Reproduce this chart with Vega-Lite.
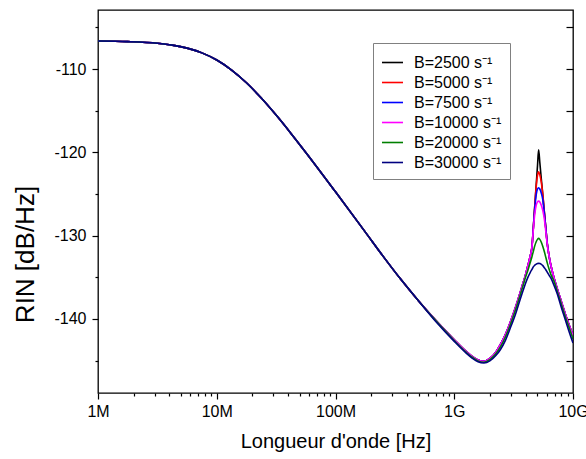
{
  "$schema": "https://vega.github.io/schema/vega-lite/v6.json",
  "width": 475,
  "height": 383,
  "autosize": {"type": "none"},
  "padding": {"left": 98, "top": 10, "right": 13, "bottom": 66},
  "config": {
    "font": "Liberation Sans",
    "view": {"stroke": "#000000", "strokeWidth": 1.3},
    "axis": {
      "labelFont": "Liberation Sans",
      "titleFont": "Liberation Sans",
      "labelFontSize": 16,
      "titleFontSize": 20,
      "titleFontWeight": "normal",
      "labelColor": "#000000",
      "titleColor": "#000000",
      "tickColor": "#000000",
      "tickWidth": 1.2,
      "domain": false,
      "grid": false
    }
  },
  "datasets": {
    "rin": [
      {"f": 1e6, "B=2500": -106.63, "B=5000": -106.63, "B=7500": -106.63, "B=10000": -106.63, "B=20000": -106.63, "B=30000": -106.63},
      {"f": 1.778e6, "B=2500": -106.7, "B=5000": -106.7, "B=7500": -106.7, "B=10000": -106.7, "B=20000": -106.7, "B=30000": -106.7},
      {"f": 3.162e6, "B=2500": -106.9, "B=5000": -106.9, "B=7500": -106.9, "B=10000": -106.9, "B=20000": -106.9, "B=30000": -106.9},
      {"f": 4.217e6, "B=2500": -107.12, "B=5000": -107.12, "B=7500": -107.12, "B=10000": -107.12, "B=20000": -107.12, "B=30000": -107.12},
      {"f": 5.623e6, "B=2500": -107.48, "B=5000": -107.48, "B=7500": -107.48, "B=10000": -107.48, "B=20000": -107.48, "B=30000": -107.48},
      {"f": 7.499e6, "B=2500": -108.05, "B=5000": -108.05, "B=7500": -108.05, "B=10000": -108.05, "B=20000": -108.05, "B=30000": -108.05},
      {"f": 1e7, "B=2500": -108.91, "B=5000": -108.91, "B=7500": -108.91, "B=10000": -108.91, "B=20000": -108.91, "B=30000": -108.91},
      {"f": 1.334e7, "B=2500": -110.11, "B=5000": -110.11, "B=7500": -110.11, "B=10000": -110.11, "B=20000": -110.11, "B=30000": -110.11},
      {"f": 1.778e7, "B=2500": -111.64, "B=5000": -111.64, "B=7500": -111.64, "B=10000": -111.64, "B=20000": -111.64, "B=30000": -111.64},
      {"f": 2.371e7, "B=2500": -113.47, "B=5000": -113.47, "B=7500": -113.47, "B=10000": -113.47, "B=20000": -113.47, "B=30000": -113.47},
      {"f": 3.162e7, "B=2500": -115.52, "B=5000": -115.52, "B=7500": -115.52, "B=10000": -115.52, "B=20000": -115.52, "B=30000": -115.52},
      {"f": 4.217e7, "B=2500": -117.72, "B=5000": -117.72, "B=7500": -117.72, "B=10000": -117.72, "B=20000": -117.72, "B=30000": -117.72},
      {"f": 5.623e7, "B=2500": -120.01, "B=5000": -120.01, "B=7500": -120.01, "B=10000": -120.01, "B=20000": -120.01, "B=30000": -120.01},
      {"f": 1e8, "B=2500": -124.74, "B=5000": -124.74, "B=7500": -124.74, "B=10000": -124.74, "B=20000": -124.74, "B=30000": -124.74},
      {"f": 1.778e8, "B=2500": -129.55, "B=5000": -129.55, "B=7500": -129.55, "B=10000": -129.55, "B=20000": -129.55, "B=30000": -129.55},
      {"f": 2.512e8, "B=2500": -132.46, "B=5000": -132.46, "B=7500": -132.46, "B=10000": -132.46, "B=20000": -132.46, "B=30000": -132.46},
      {"f": 3.548e8, "B=2500": -135.25, "B=5000": -135.25, "B=7500": -135.25, "B=10000": -135.25, "B=20000": -135.25, "B=30000": -135.25},
      {"f": 5.012e8, "B=2500": -137.85, "B=5000": -137.85, "B=7500": -137.85, "B=10000": -137.85, "B=20000": -137.85, "B=30000": -137.85},
      {"f": 7.079e8, "B=2500": -140.25, "B=5000": -140.25, "B=7500": -140.25, "B=10000": -140.25, "B=20000": -140.3, "B=30000": -140.4},
      {"f": 1e9, "B=2500": -142.5, "B=5000": -142.5, "B=7500": -142.5, "B=10000": -142.5, "B=20000": -142.6, "B=30000": -142.7},
      {"f": 1.259e9, "B=2500": -143.9, "B=5000": -143.9, "B=7500": -143.9, "B=10000": -143.9, "B=20000": -144.0, "B=30000": -144.1},
      {"f": 1.413e9, "B=2500": -144.5, "B=5000": -144.5, "B=7500": -144.5, "B=10000": -144.5, "B=20000": -144.6, "B=30000": -144.7},
      {"f": 1.585e9, "B=2500": -144.95, "B=5000": -144.95, "B=7500": -144.95, "B=10000": -144.95, "B=20000": -145.05, "B=30000": -145.15},
      {"f": 1.778e9, "B=2500": -145.1, "B=5000": -145.1, "B=7500": -145.1, "B=10000": -145.1, "B=20000": -145.2, "B=30000": -145.3},
      {"f": 1.995e9, "B=2500": -144.75, "B=5000": -144.75, "B=7500": -144.75, "B=10000": -144.75, "B=20000": -144.9, "B=30000": -145.05},
      {"f": 2.239e9, "B=2500": -144.0, "B=5000": -144.0, "B=7500": -144.0, "B=10000": -144.0, "B=20000": -144.2, "B=30000": -144.4},
      {"f": 2.443e9, "B=2500": -143.1, "B=5000": -143.1, "B=7500": -143.1, "B=10000": -143.1, "B=20000": -143.4, "B=30000": -143.7},
      {"f": 2.691e9, "B=2500": -141.9, "B=5000": -141.9, "B=7500": -141.9, "B=10000": -141.9, "B=20000": -142.2, "B=30000": -142.6},
      {"f": 2.965e9, "B=2500": -140.4, "B=5000": -140.4, "B=7500": -140.4, "B=10000": -140.4, "B=20000": -140.7, "B=30000": -141.1},
      {"f": 3.267e9, "B=2500": -138.7, "B=5000": -138.7, "B=7500": -138.7, "B=10000": -138.7, "B=20000": -139.0, "B=30000": -139.5},
      {"f": 3.599e9, "B=2500": -136.8, "B=5000": -136.8, "B=7500": -136.8, "B=10000": -136.8, "B=20000": -137.1, "B=30000": -137.6},
      {"f": 3.815e9, "B=2500": -135.6, "B=5000": -135.6, "B=7500": -135.6, "B=10000": -135.6, "B=20000": -135.9, "B=30000": -136.5},
      {"f": 3.966e9, "B=2500": -134.8, "B=5000": -134.8, "B=7500": -134.8, "B=10000": -134.8, "B=20000": -135.1, "B=30000": -135.8},
      {"f": 4.204e9, "B=2500": -133.4, "B=5000": -133.4, "B=7500": -133.4, "B=10000": -133.4, "B=20000": -134.0, "B=30000": -134.9},
      {"f": 4.37e9, "B=2500": -132.4, "B=5000": -132.4, "B=7500": -132.4, "B=10000": -132.4, "B=20000": -133.2, "B=30000": -134.4},
      {"f": 4.516e9, "B=2500": -131.3, "B=5000": -131.3, "B=7500": -131.3, "B=10000": -131.3, "B=20000": -132.5, "B=30000": -134.05},
      {"f": 4.632e9, "B=2500": -129.1, "B=5000": -129.1, "B=7500": -129.1, "B=10000": -129.3, "B=20000": -131.9, "B=30000": -133.75},
      {"f": 4.768e9, "B=2500": -126.4, "B=5000": -126.4, "B=7500": -126.7, "B=10000": -127.4, "B=20000": -131.2, "B=30000": -133.55},
      {"f": 4.909e9, "B=2500": -123.7, "B=5000": -124.0, "B=7500": -125.0, "B=10000": -126.3, "B=20000": -130.7, "B=30000": -133.42},
      {"f": 5.025e9, "B=2500": -121.6, "B=5000": -122.75, "B=7500": -124.4, "B=10000": -125.95, "B=20000": -130.45, "B=30000": -133.35},
      {"f": 5.133e9, "B=2500": -119.7, "B=5000": -122.33, "B=7500": -124.25, "B=10000": -125.85, "B=20000": -130.33, "B=30000": -133.33},
      {"f": 5.254e9, "B=2500": -121.2, "B=5000": -122.7, "B=7500": -124.4, "B=10000": -125.95, "B=20000": -130.45, "B=30000": -133.36},
      {"f": 5.41e9, "B=2500": -123.2, "B=5000": -123.6, "B=7500": -124.9, "B=10000": -126.35, "B=20000": -130.8, "B=30000": -133.45},
      {"f": 5.569e9, "B=2500": -125.1, "B=5000": -125.1, "B=7500": -125.7, "B=10000": -127.0, "B=20000": -131.3, "B=30000": -133.6},
      {"f": 5.733e9, "B=2500": -127.1, "B=5000": -127.1, "B=7500": -127.3, "B=10000": -128.0, "B=20000": -131.9, "B=30000": -133.85},
      {"f": 5.902e9, "B=2500": -129.1, "B=5000": -129.1, "B=7500": -129.1, "B=10000": -129.5, "B=20000": -132.6, "B=30000": -134.1},
      {"f": 6.076e9, "B=2500": -131.0, "B=5000": -131.0, "B=7500": -131.0, "B=10000": -131.1, "B=20000": -133.3, "B=30000": -134.4},
      {"f": 6.316e9, "B=2500": -132.6, "B=5000": -132.6, "B=7500": -132.6, "B=10000": -132.6, "B=20000": -134.1, "B=30000": -134.8},
      {"f": 6.567e9, "B=2500": -133.8, "B=5000": -133.8, "B=7500": -133.8, "B=10000": -133.8, "B=20000": -134.8, "B=30000": -135.2},
      {"f": 6.892e9, "B=2500": -135.0, "B=5000": -135.0, "B=7500": -135.0, "B=10000": -135.0, "B=20000": -135.4, "B=30000": -135.9},
      {"f": 7.377e9, "B=2500": -136.4, "B=5000": -136.4, "B=7500": -136.4, "B=10000": -136.4, "B=20000": -136.7, "B=30000": -137.0},
      {"f": 7.97e9, "B=2500": -137.9, "B=5000": -137.9, "B=7500": -137.9, "B=10000": -137.9, "B=20000": -138.2, "B=30000": -138.6},
      {"f": 8.613e9, "B=2500": -139.4, "B=5000": -139.4, "B=7500": -139.4, "B=10000": -139.4, "B=20000": -139.7, "B=30000": -140.1},
      {"f": 9.307e9, "B=2500": -140.8, "B=5000": -140.8, "B=7500": -140.8, "B=10000": -140.8, "B=20000": -141.1, "B=30000": -141.6},
      {"f": 1e10, "B=2500": -142.0, "B=5000": -142.0, "B=7500": -142.0, "B=10000": -142.0, "B=20000": -142.4, "B=30000": -142.9}
    ]
  },
  "data": {"name": "rin"},
  "transform": [
    {"fold": ["B=2500", "B=5000", "B=7500", "B=10000", "B=20000", "B=30000"], "as": ["serie", "v"]}
  ],
  "layer": [
    {
      "mark": {"type": "line", "strokeWidth": 1.6, "interpolate": "monotone", "clip": true},
      "encoding": {
        "x": {
          "field": "f",
          "type": "quantitative",
          "scale": {"type": "log", "domain": [1e6, 1e10], "nice": false},
          "axis": {
            "title": "Longueur d'onde [Hz]",
            "values": [1e6, 2e6, 3e6, 4e6, 5e6, 6e6, 7e6, 8e6, 9e6, 1e7, 2e7, 3e7, 4e7, 5e7, 6e7, 7e7, 8e7, 9e7, 1e8, 2e8, 3e8, 4e8, 5e8, 6e8, 7e8, 8e8, 9e8, 1e9, 2e9, 3e9, 4e9, 5e9, 6e9, 7e9, 8e9, 9e9, 1e10],
            "labelExpr": "datum.value == 1e6 ? '1M' : datum.value == 1e7 ? '10M' : datum.value == 1e8 ? '100M' : datum.value == 1e9 ? '1G' : datum.value == 1e10 ? '10G' : ''",
            "tickSize": {"condition": {"test": "datum.value == 1e6 || datum.value == 1e7 || datum.value == 1e8 || datum.value == 1e9 || datum.value == 1e10", "value": 6}, "value": 3},
            "labelPadding": 4,
            "labelOverlap": false,
            "labelBound": false,
            "labelFlush": false,
            "titlePadding": 12
          }
        },
        "y": {
          "field": "v",
          "type": "quantitative",
          "scale": {"domain": [-148.9, -102.9], "nice": false, "zero": false},
          "axis": {
            "title": "RIN [dB/Hz]",
            "titleFontSize": 26,
            "titleY": 244,
            "values": [-145, -140, -135, -130, -125, -120, -115, -110, -105],
            "labelExpr": "datum.value % 10 == 0 ? '' + datum.value : ''",
            "tickSize": {"condition": {"test": "datum.value % 10 == 0", "value": 6}, "value": 3},
            "labelPadding": 6,
            "titlePadding": 15
          }
        },
        "color": {
          "field": "serie",
          "type": "nominal",
          "sort": ["B=2500", "B=5000", "B=7500", "B=10000", "B=20000", "B=30000"],
          "scale": {
            "domain": ["B=2500", "B=5000", "B=7500", "B=10000", "B=20000", "B=30000"],
            "range": ["#000000", "#ff0000", "#0000ff", "#ff00ff", "#008000", "#000080"]
          },
          "legend": {
            "title": null,
            "orient": "none",
            "legendX": 275,
            "legendY": 33,
            "symbolType": "stroke",
            "symbolSize": 441,
            "symbolStrokeWidth": 1.6,
            "labelFont": "Liberation Sans",
            "labelFontSize": 16,
            "labelColor": "#000000",
            "labelLimit": 200,
            "labelOffset": 10,
            "labelExpr": "datum.label + ' s⁻¹'",
            "strokeColor": "#808080",
            "fillColor": "#ffffff",
            "padding": 8,
            "rowPadding": 0
          }
        }
      }
    },
    {
      "mark": {"type": "rule", "opacity": 0},
      "encoding": {
        "y": {
          "datum": -120,
          "type": "quantitative",
          "scale": {"domain": [-148.9, -102.9], "nice": false, "zero": false},
          "axis": {
            "orient": "right",
            "title": null,
            "labels": false,
            "values": [-145, -140, -135, -130, -125, -120, -115, -110, -105],
            "tickSize": -7
          }
        }
      }
    }
  ],
  "resolve": {"scale": {"y": "independent"}}
}
